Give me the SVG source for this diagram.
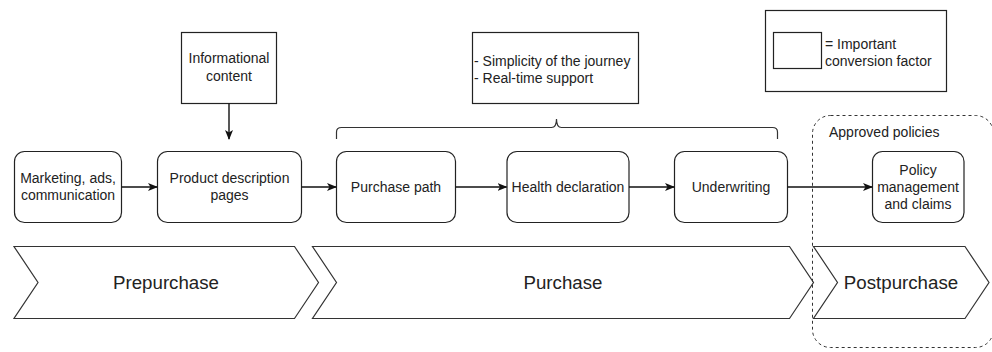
<svg xmlns="http://www.w3.org/2000/svg" width="992" height="352" viewBox="0 0 992 352">
  <style>
    .box { fill: #ffffff; stroke: #222; stroke-width: 1.2; }
    .chev { fill: #ffffff; stroke: #333; stroke-width: 1.2; }
    .edge { fill: none; stroke: #111; stroke-width: 1.4; }
    .lbl { font-family: "Liberation Sans", Arial, sans-serif; font-size: 14px; fill: #222; text-anchor: middle; }
    .lbl-left { font-family: "Liberation Sans", Arial, sans-serif; font-size: 14px; fill: #222; }
    .phase { font-family: "Liberation Sans", Arial, sans-serif; font-size: 18.7px; fill: #222; text-anchor: middle; }
  </style>
  <defs>
    <marker id="arrow" viewBox="0 0 10 8" refX="9" refY="4" markerWidth="10" markerHeight="8" markerUnits="userSpaceOnUse" orient="auto">
      <path d="M0,0 L10,4 L0,8 L2.5,4 Z" fill="#111"/>
    </marker>
  </defs>

  <rect width="992" height="352" fill="#ffffff"/>

  <!-- phase chevrons -->
  <g id="phase-prepurchase">
    <path class="chev" d="M14,246.5 L294.5,246.5 L318.5,282.5 L294.5,318.5 L14,318.5 L38,282.5 Z"/>
    <text class="phase" x="166" y="289">Prepurchase</text>
  </g>
  <g id="phase-purchase">
    <path class="chev" d="M312.5,246.5 L789.5,246.5 L813.5,282.5 L789.5,318.5 L312.5,318.5 L336.5,282.5 Z"/>
    <text class="phase" x="563" y="289">Purchase</text>
  </g>
  <g id="phase-postpurchase">
    <path class="chev" d="M813.5,246.5 L965,246.5 L989,282.5 L965,318.5 L813.5,318.5 L837.5,282.5 Z"/>
    <text class="phase" x="901" y="289">Postpurchase</text>
  </g>

  <!-- approved policies container -->
  <g id="approved-policies">
    <rect x="812.5" y="115.5" width="181" height="232" rx="18" ry="18" fill="none" stroke="#333" stroke-width="1" stroke-dasharray="3 3"/>
    <text class="lbl-left" x="829" y="137">Approved policies</text>
  </g>

  <!-- process steps -->
  <g id="marketing">
    <rect class="box" x="14.5" y="151.5" width="107" height="71" rx="10" ry="10"/>
    <text class="lbl" x="68" y="183">Marketing, ads,</text>
    <text class="lbl" x="68" y="200">communication</text>
  </g>
  <g id="product-pages">
    <rect class="box" x="157.5" y="151.5" width="144" height="71" rx="10" ry="10"/>
    <text class="lbl" x="229.5" y="183">Product description</text>
    <text class="lbl" x="229.5" y="200">pages</text>
  </g>
  <g id="purchase-path">
    <rect class="box" x="336.5" y="151.5" width="119" height="71" rx="10" ry="10"/>
    <text class="lbl" x="396" y="192">Purchase path</text>
  </g>
  <g id="health-declaration">
    <rect class="box" x="507" y="151.5" width="122" height="71" rx="10" ry="10"/>
    <text class="lbl" x="568" y="192">Health declaration</text>
  </g>
  <g id="underwriting">
    <rect class="box" x="674.5" y="151.5" width="113" height="71" rx="10" ry="10"/>
    <text class="lbl" x="731" y="192">Underwriting</text>
  </g>
  <g id="policy-management">
    <rect class="box" x="872.5" y="151.5" width="91.5" height="71" rx="10" ry="10"/>
    <text class="lbl" x="918" y="175">Policy</text>
    <text class="lbl" x="918" y="192">management</text>
    <text class="lbl" x="918" y="209">and claims</text>
  </g>

  <!-- annotations -->
  <g id="informational-content">
    <rect class="box" x="181.5" y="32.5" width="95" height="71"/>
    <text class="lbl" x="229" y="63">Informational</text>
    <text class="lbl" x="229" y="81">content</text>
  </g>
  <g id="journey-factors">
    <rect class="box" x="472.5" y="32.5" width="166" height="71"/>
    <text class="lbl-left" x="474" y="66">- Simplicity of the journey</text>
    <text class="lbl-left" x="474" y="83">- Real-time support</text>
  </g>
  <g id="purchase-brace">
    <path d="M336.5,139 L336.5,132 Q336.5,127.5 341.5,127.5 L551.5,127.5 Q556.5,127.5 556.5,119 Q556.5,127.5 561.5,127.5 L772.5,127.5 Q777.5,127.5 777.5,132 L777.5,139" fill="none" stroke="#333" stroke-width="1.2"/>
  </g>
  <g id="legend">
    <rect class="box" x="765.5" y="10.5" width="181" height="81"/>
    <rect class="box" x="773.5" y="32.5" width="48" height="36"/>
    <text class="lbl-left" x="825" y="49">= Important</text>
    <text class="lbl-left" x="825" y="66">conversion factor</text>
  </g>

  <!-- connectors -->
  <g id="connectors">
    <line class="edge" x1="121.5" y1="187" x2="157" y2="187" marker-end="url(#arrow)"/>
    <line class="edge" x1="301.5" y1="187" x2="336" y2="187" marker-end="url(#arrow)"/>
    <line class="edge" x1="455.5" y1="187" x2="506.5" y2="187" marker-end="url(#arrow)"/>
    <line class="edge" x1="629" y1="187" x2="674" y2="187" marker-end="url(#arrow)"/>
    <line class="edge" x1="787.5" y1="187" x2="872" y2="187" marker-end="url(#arrow)"/>
    <line class="edge" x1="229" y1="103.5" x2="229" y2="139" marker-end="url(#arrow)"/>
  </g>
</svg>
